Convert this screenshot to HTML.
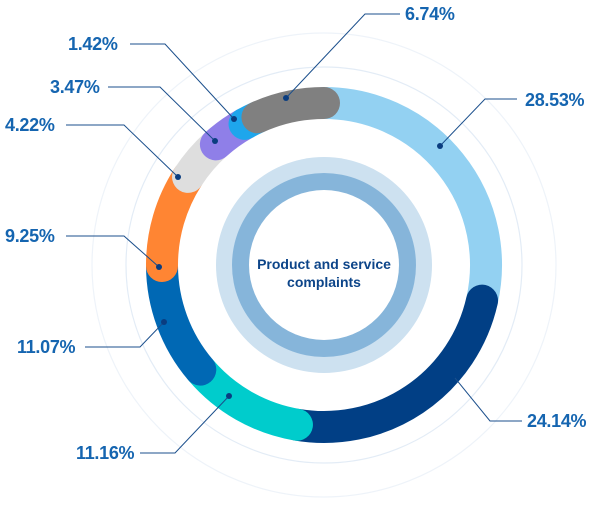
<!DOCTYPE html>
<html><head><meta charset="utf-8"><style>
html,body{margin:0;padding:0;background:#fff;width:600px;height:505px;overflow:hidden}
svg text{font-family:"Liberation Sans",sans-serif;font-weight:bold}
</style></head><body>
<svg width="600" height="505" viewBox="0 0 600 505" xmlns="http://www.w3.org/2000/svg">
<circle cx="324" cy="265" r="232" fill="none" stroke="#eef3f9" stroke-width="1.2"/>
<circle cx="324" cy="265" r="198" fill="none" stroke="#e3ecf6" stroke-width="1.2"/>
<circle cx="324" cy="265" r="108" fill="#cde1f0"/>
<circle cx="324" cy="265" r="92" fill="#86b5da"/>
<circle cx="324" cy="265" r="75" fill="#fff"/>
<text x="324" y="269" text-anchor="middle" font-size="14" fill="#0d4589">Product and service</text>
<text x="324" y="287" text-anchor="middle" font-size="14" fill="#0d4589">complaints</text>
<g id="ring" fill="none" stroke-width="32" stroke-linecap="round"></g>
<g stroke="#1b4f8c" stroke-width="1" fill="none">
<polyline points="286,98 365,14 400,14"/>
<polyline points="440,146 485,99 517,99"/>
<polyline points="234,119 165,44 130,44"/>
<polyline points="215,141 160,87 108,87"/>
<polyline points="178,177 124,125 66,125"/>
<polyline points="159,267 124,236 66,236"/>
<polyline points="164,322 140,347 85,347"/>
<polyline points="229,396 175,453 140,453"/>
<polyline points="455,378 490,421 522,421"/>
</g>
<g fill="#0a3d80">
<circle cx="286" cy="98" r="3"/><circle cx="440" cy="146" r="3"/><circle cx="234" cy="119" r="3"/>
<circle cx="215" cy="141" r="3"/><circle cx="178" cy="177" r="3"/><circle cx="159" cy="267" r="3"/>
<circle cx="164" cy="322" r="3"/><circle cx="229" cy="396" r="3"/>
</g>
<g font-size="18" fill="#1565b0" letter-spacing="-0.3">
<text x="405" y="20">6.74%</text>
<text x="525" y="106">28.53%</text>
<text x="68" y="50">1.42%</text>
<text x="50" y="93">3.47%</text>
<text x="5" y="131">4.22%</text>
<text x="5" y="242">9.25%</text>
<text x="17" y="353">11.07%</text>
<text x="76" y="459">11.16%</text>
<text x="527" y="427">24.14%</text>
</g>
</svg>
<script>
(function(){
var segs=[[28.53,"#93d1f2"],[24.14,"#013f85"],[11.16,"#00cccc"],[11.07,"#0068b4"],[9.25,"#ff8533"],[4.22,"#dedede"],[3.47,"#8f7fe8"],[1.42,"#1ea6ec"],[6.74,"#808080"]];
var g=document.getElementById("ring"),a=0,cx=324,cy=265,r=162;
function pt(d){var t=d*Math.PI/180;return (cx+r*Math.sin(t)).toFixed(2)+" "+(cy-r*Math.cos(t)).toFixed(2);}
segs.forEach(function(s){var d=s[0]*3.6,b=a+d;
var p=document.createElementNS("http://www.w3.org/2000/svg","path");
p.setAttribute("d","M"+pt(a)+" A"+r+" "+r+" 0 "+(d>180?1:0)+" 1 "+pt(b));
p.setAttribute("stroke",s[1]);g.appendChild(p);a=b;});
})();
</script>
</body></html>
